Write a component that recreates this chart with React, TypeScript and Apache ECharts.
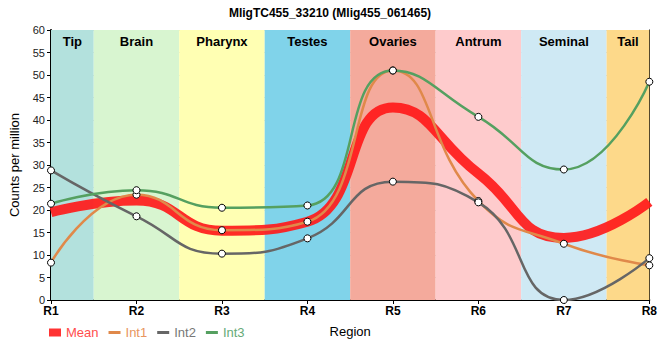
import React, { useEffect, useRef } from "react";
import * as echarts from "echarts";

const regions = ["R1", "R2", "R3", "R4", "R5", "R6", "R7", "R8"];
const meanVals = [19.5, 22.1, 15.4, 17.4, 42.8, 28.1, 13.8, 21.8];
const int1Vals = [8.3, 23.4, 15.5, 17.4, 51.0, 22.0, 12.5, 7.7];
const int2Vals = [28.8, 18.6, 10.3, 13.7, 26.3, 21.7, 0.0, 9.3];
const int3Vals = [21.4, 24.4, 20.5, 21.0, 51.0, 40.7, 29.0, 48.5];
const bandNames = ["Tip", "Brain", "Pharynx", "Testes", "Ovaries", "Antrum", "Seminal", "Tail"];
const bandColors = ["#b3e1dd", "#d8f5d0", "#ffffb3", "#80d3ea", "#f4aa9c", "#fecbcc", "#cfe9f4", "#fdd98a"];

const FONT = "Liberation Sans";

export default function App() {
  const ref = useRef<HTMLDivElement>(null);
  useEffect(() => {
    const chart = echarts.init(ref.current!, null, { renderer: "svg" });
    const bands = bandNames.map((n, i) => [
      { xAxis: Math.max(0, i - 0.5), name: n, itemStyle: { color: bandColors[i] } },
      { xAxis: Math.min(7, i + 0.5) },
    ]);
    const sym = { color: "#fff", borderColor: "#000", borderWidth: 1 };
    const lineIcon = "path://M0,0h12v3h-12z";
    chart.setOption({
      animation: false,
      title: {
        text: "MligTC455_33210 (Mlig455_061465)",
        left: "center",
        top: 2,
        textStyle: { fontFamily: FONT, fontSize: 12, fontWeight: "bold", color: "#000" },
      },
      grid: { left: 50, right: 10, top: 30, bottom: 60 },
      legend: {
        left: 44,
        top: 321,
        itemGap: 10,
        itemWidth: 12,
        itemHeight: 8,
        textStyle: { fontFamily: FONT, fontSize: 13 },
        data: [
          { name: "Mean", icon: "rect", itemStyle: { color: "#ff3333", borderWidth: 0 }, textStyle: { color: "#ff4d4d" } },
          { name: "Int1", icon: lineIcon, itemStyle: { color: "#e0894a", borderWidth: 0 }, textStyle: { color: "#e8955e" } },
          { name: "Int2", icon: lineIcon, itemStyle: { color: "#666666", borderWidth: 0 }, textStyle: { color: "#777777" } },
          { name: "Int3", icon: lineIcon, itemStyle: { color: "#55a060", borderWidth: 0 }, textStyle: { color: "#66aa77" } },
        ],
      },
      xAxis: [
        {
          type: "category",
          data: regions,
          boundaryGap: false,
          name: "Region",
          nameLocation: "middle",
          nameGap: 25,
          nameTextStyle: { fontFamily: FONT, fontSize: 13, color: "#000" },
          axisLine: { lineStyle: { color: "#000", width: 2 } },
          axisTick: { lineStyle: { color: "#000" }, length: 4 },
          axisLabel: { fontFamily: FONT, fontSize: 12, fontWeight: "bold", color: "#000", margin: 5 },
          splitLine: { show: true, lineStyle: { color: "#c8c8c8" } },
        },
        { type: "value", min: 0, max: 7, show: false },
      ],
      yAxis: [
        {
          type: "value",
          min: 0,
          max: 60,
          interval: 5,
          name: "Counts per million",
          nameLocation: "middle",
          nameGap: 30,
          nameTextStyle: { fontFamily: FONT, fontSize: 13, color: "#000" },
          axisLine: { show: true, lineStyle: { color: "#000", width: 2 } },
          axisTick: { show: true, length: 4, lineStyle: { color: "#000" } },
          axisLabel: { fontFamily: FONT, fontSize: 11, color: "#222", margin: 6 },
          splitLine: { lineStyle: { color: "#c8c8c8" } },
        },
        {
          type: "value",
          min: 0,
          max: 60,
          position: "right",
          axisLine: { show: true, lineStyle: { color: "#000", width: 1 } },
          axisTick: { show: false },
          axisLabel: { show: false },
          splitLine: { show: false },
        },
      ],
      series: [
        {
          type: "line",
          xAxisIndex: 1,
          data: [],
          z: -1,
          silent: true,
          markArea: {
            silent: true,
            label: {
              show: true,
              position: "insideTop",
              distance: 5,
              fontFamily: FONT,
              fontSize: 13,
              fontWeight: "bold",
              color: "#000",
            },
            data: bands,
          },
        },
        {
          name: "Mean",
          type: "line",
          data: meanVals,
          smooth: 0.5,
          showSymbol: false,
          symbol: "none",
          lineStyle: { color: "#ff1a1a", width: 10, opacity: 0.92 },
          itemStyle: { color: "#ff3333" },
          z: 3,
        },
        {
          name: "Int1",
          type: "line",
          data: int1Vals,
          smooth: 0.5,
          symbol: "circle",
          symbolSize: 7,
          lineStyle: { color: "#e0894a", width: 2.5 },
          itemStyle: sym,
          z: 4,
        },
        {
          name: "Int2",
          type: "line",
          data: int2Vals,
          smooth: 0.5,
          symbol: "circle",
          symbolSize: 7,
          lineStyle: { color: "#666666", width: 2.5 },
          itemStyle: sym,
          z: 4,
        },
        {
          name: "Int3",
          type: "line",
          data: int3Vals,
          smooth: 0.5,
          symbol: "circle",
          symbolSize: 7,
          lineStyle: { color: "#55a060", width: 2.5 },
          itemStyle: sym,
          z: 4,
        },
      ],
    });
    return () => chart.dispose();
  }, []);
  return <div ref={ref} style={{ position: "absolute", left: 0, top: 0, width: 660, height: 360 }} />;
}
